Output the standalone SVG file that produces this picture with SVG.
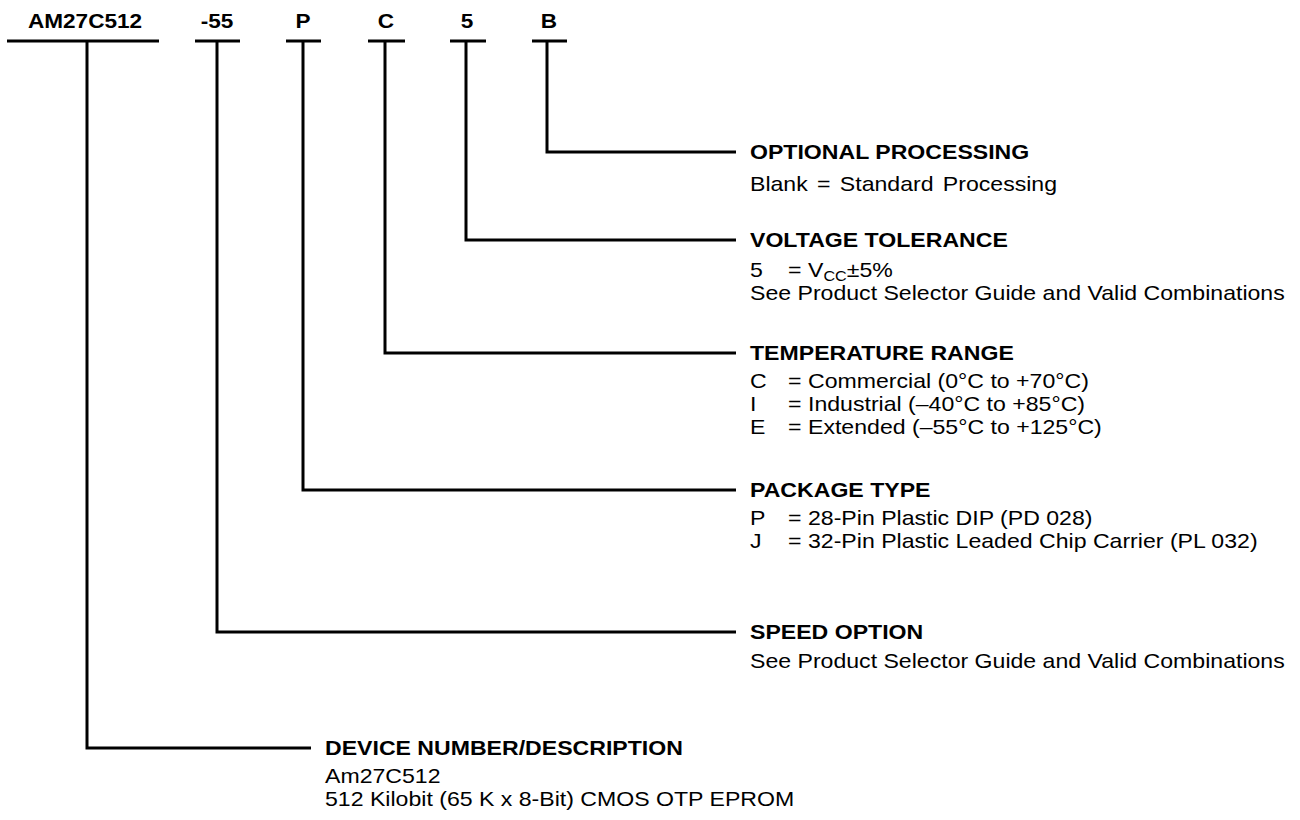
<svg xmlns="http://www.w3.org/2000/svg" width="1300" height="820" viewBox="0 0 1300 820">
<style>
.ln{fill:none;stroke:#000;stroke-width:3}
text{font-family:"Liberation Sans",Arial,Helvetica,sans-serif;fill:#000}
.hd{font-size:20px;font-weight:bold}
.bd{font-size:20px}
.top{font-size:20px;font-weight:bold;text-anchor:middle}
.sub{font-size:14px}
</style>
<rect width="1300" height="820" fill="#fff"/>
<g id="code-labels">
<g id="lbl-device"><text class="top" transform="translate(85,28) scale(1.13,1)">AM27C512</text><line class="ln" x1="7" y1="41" x2="159" y2="41"/></g>
<g id="lbl-speed"><text class="top" transform="translate(217,28) scale(1.13,1)">-55</text><line class="ln" x1="195" y1="41" x2="240" y2="41"/></g>
<g id="lbl-package"><text class="top" transform="translate(303,28) scale(1.13,1)">P</text><line class="ln" x1="286" y1="41" x2="321" y2="41"/></g>
<g id="lbl-temp"><text class="top" transform="translate(386,28) scale(1.13,1)">C</text><line class="ln" x1="368" y1="41" x2="405" y2="41"/></g>
<g id="lbl-voltage"><text class="top" transform="translate(467,28) scale(1.13,1)">5</text><line class="ln" x1="450" y1="41" x2="486" y2="41"/></g>
<g id="lbl-processing"><text class="top" transform="translate(549,28) scale(1.13,1)">B</text><line class="ln" x1="532" y1="41" x2="567" y2="41"/></g>
</g>
<g id="connectors">
<path class="ln" d="M547,41 V152 H736"/>
<path class="ln" d="M466,41 V240 H736"/>
<path class="ln" d="M385,41 V353 H736"/>
<path class="ln" d="M303,41 V490 H736"/>
<path class="ln" d="M217,41 V632 H736"/>
<path class="ln" d="M87,41 V748 H311"/>
</g>
<g id="optional-processing" transform="translate(750,0) scale(1.155,1)">
<text class="hd" x="0" y="159">OPTIONAL PROCESSING</text>
<text class="bd" x="0" y="191" word-spacing="2.5">Blank = Standard Processing</text>
</g>
<g id="voltage-tolerance" transform="translate(750,0) scale(1.155,1)">
<text class="hd" x="0" y="247">VOLTAGE TOLERANCE</text>
<text class="bd" x="0" y="277">5</text>
<text class="bd" x="33" y="277">= V<tspan class="sub" dy="4">CC</tspan><tspan dy="-4">±5%</tspan></text>
<text class="bd" x="0" y="300">See Product Selector Guide and Valid Combinations</text>
</g>
<g id="temperature-range" transform="translate(750,0) scale(1.155,1)">
<text class="hd" x="0" y="360">TEMPERATURE RANGE</text>
<text class="bd" x="0" y="388">C</text>
<text class="bd" x="33" y="388">= Commercial (0°C to +70°C)</text>
<text class="bd" x="0" y="411">I</text>
<text class="bd" x="33" y="411">= Industrial (–40°C to +85°C)</text>
<text class="bd" x="0" y="434">E</text>
<text class="bd" x="33" y="434">= Extended (–55°C to +125°C)</text>
</g>
<g id="package-type" transform="translate(750,0) scale(1.155,1)">
<text class="hd" x="0" y="497">PACKAGE TYPE</text>
<text class="bd" x="0" y="525">P</text>
<text class="bd" x="33" y="525">= 28-Pin Plastic DIP (PD 028)</text>
<text class="bd" x="0" y="548">J</text>
<text class="bd" x="33" y="548">= 32-Pin Plastic Leaded Chip Carrier (PL 032)</text>
</g>
<g id="speed-option" transform="translate(750,0) scale(1.155,1)">
<text class="hd" x="0" y="639">SPEED OPTION</text>
<text class="bd" x="0" y="668">See Product Selector Guide and Valid Combinations</text>
</g>
<g id="device-number" transform="translate(325,0) scale(1.155,1)">
<text class="hd" x="0" y="755">DEVICE NUMBER/DESCRIPTION</text>
<text class="bd" x="0" y="783">Am27C512</text>
<text class="bd" x="0" y="806">512 Kilobit (65 K x 8-Bit) CMOS OTP EPROM</text>
</g>
</svg>
